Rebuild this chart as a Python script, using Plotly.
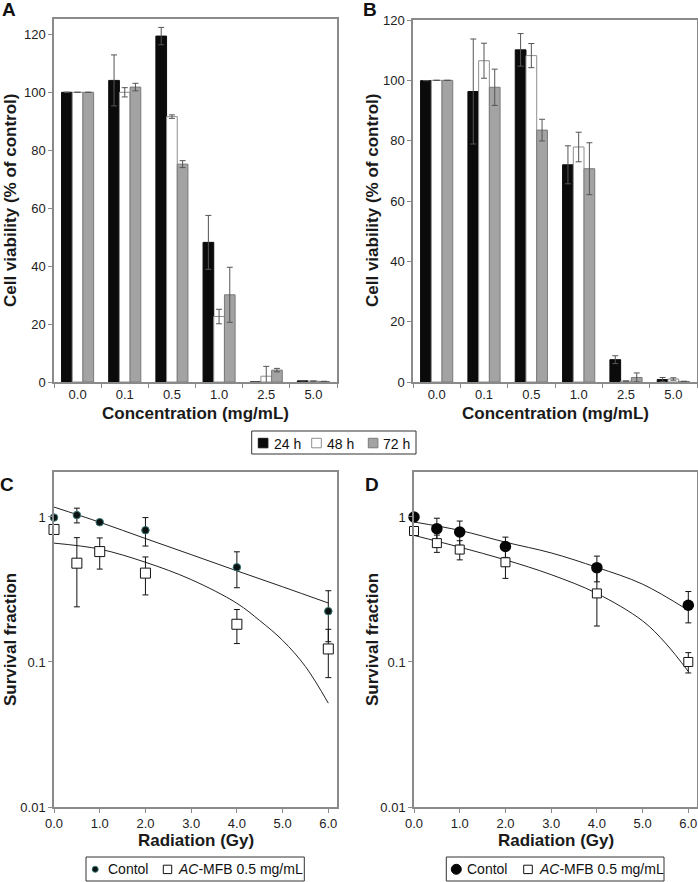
import plotly.graph_objects as go

W, H = 698, 882

# ---------------- data ----------------
conc = ["0.0", "0.1", "0.5", "1.0", "2.5", "5.0"]
series_names = ["24 h", "48 h", "72 h"]

A_24 = [100, 104.1, 119.4, 48.2, 0, 0.4]
A_24_err = [0, 8.8, 3.0, 9.3, 0, 0]
A_48 = [100, 100, 91.6, 22.6, 2.0, 0.3]
A_48_err = [0, 1.6, 0.6, 2.5, 3.4, 0]
A_72 = [100, 101.8, 75.2, 30.1, 4.1, 0.2]
A_72_err = [0, 1.3, 1.2, 9.5, 0.6, 0]

B_24 = [99.9, 96.3, 110.1, 72.0, 7.4, 0.8]
B_24_err = [0, 17.4, 5.4, 6.3, 1.3, 0.7]
B_48 = [100, 106.5, 108.2, 77.9, 0.3, 1.0]
B_48_err = [0, 5.8, 4.0, 4.9, 0, 0.4]
B_72 = [100, 97.7, 83.5, 70.7, 1.5, 0.2]
B_72_err = [0, 6.0, 3.6, 8.6, 1.5, 0]

dose = [0, 0.5, 1, 2, 4, 6]
C_ctrl = [0.99, 1.03, 0.92, 0.81, 0.45, 0.224]
C_ctrl_err = [0, 0.12, 0.02, 0.18, 0.125, 0.086]
C_mfb = [0.82, 0.48, 0.577, 0.41, 0.182, 0.123]
C_mfb_err = [0, 0.24, 0.14, 0.12, 0.048, 0.045]

D_ctrl = [1.0, 0.83, 0.787, 0.626, 0.447, 0.246]
D_ctrl_err = [0, 0.15, 0.15, 0.1, 0.09, 0.06]
D_mfb = [0.80, 0.66, 0.596, 0.487, 0.297, 0.10]
D_mfb_err = [0.05, 0.09, 0.09, 0.11, 0.12, 0.016]

# fitted survival curves
C_fit_dose_ctrl = [0, 1, 2, 3, 4, 5, 6]
C_fit_ctrl = [1.17, 0.92, 0.71, 0.55, 0.425, 0.33, 0.255]
C_fit_dose_mfb = [0, 1, 2, 3, 4, 4.5, 5, 5.5, 6]
C_fit_mfb = [0.66, 0.60, 0.487, 0.37, 0.254, 0.193, 0.141, 0.093, 0.052]
D_fit_dose_ctrl = [0, 1, 2, 3, 4, 5, 6]
D_fit_ctrl = [0.923, 0.808, 0.67, 0.565, 0.449, 0.344, 0.227]
D_fit_dose_mfb = [0, 1, 2, 3, 4, 5, 5.5, 6]
D_fit_mfb = [0.746, 0.619, 0.506, 0.40, 0.297, 0.192, 0.135, 0.086]

x_ticks_rad = [0, 1, 2, 3, 4, 5, 6]
x_ticktext_rad = ["0.0", "1.0", "2.0", "3.0", "4.0", "5.0", "6.0"]
legend_ctrl = "Contol"
legend_mfb = "<i>AC</i>-MFB 0.5 mg/mL"

FONT = "Liberation Sans, Arial, sans-serif"
AX_COL = "#8a8a8a"

BAR_FILL = ["#0b0b0b", "#ffffff", "#a3a3a3"]
BAR_LINE = ["#0b0b0b", "#8f8f8f", "#7a7a7a"]


def px_x(p):
    return p / W


def px_y(p):
    return 1 - p / H


fig = go.Figure()

err_style = dict(type="data", color="#555555", thickness=1, width=3, visible=True)

for i, (vals, errs) in enumerate([(A_24, A_24_err), (A_48, A_48_err), (A_72, A_72_err)]):
    fig.add_trace(go.Bar(x=conc, y=vals, name=series_names[i],
                         marker=dict(color=BAR_FILL[i], line=dict(color=BAR_LINE[i], width=1)),
                         xaxis="x", yaxis="y", error_y=dict(array=errs, **err_style)))
for i, (vals, errs) in enumerate([(B_24, B_24_err), (B_48, B_48_err), (B_72, B_72_err)]):
    fig.add_trace(go.Bar(x=conc, y=vals, name=series_names[i],
                         marker=dict(color=BAR_FILL[i], line=dict(color=BAR_LINE[i], width=1)),
                         xaxis="x2", yaxis="y2", error_y=dict(array=errs, **err_style)))

ebar = dict(type="data", color="#111111", thickness=1, width=3, visible=True)
fit_line = dict(color="#222", width=1, shape="spline")

# Panel C
fig.add_trace(go.Scatter(x=C_fit_dose_ctrl, y=C_fit_ctrl, mode="lines", line=fit_line,
                         xaxis="x3", yaxis="y3", hoverinfo="skip"))
fig.add_trace(go.Scatter(x=C_fit_dose_mfb, y=C_fit_mfb, mode="lines", line=fit_line,
                         xaxis="x3", yaxis="y3", hoverinfo="skip"))
fig.add_trace(go.Scatter(x=dose, y=C_ctrl, mode="markers", name=legend_ctrl, cliponaxis=False,
                         marker=dict(symbol="circle", size=7.5, color="#0a1212", line=dict(color="#3a7676", width=1)),
                         error_y=dict(array=C_ctrl_err, **ebar), xaxis="x3", yaxis="y3"))
fig.add_trace(go.Scatter(x=dose, y=C_mfb, mode="markers", name=legend_mfb, cliponaxis=False,
                         marker=dict(symbol="square", size=10, color="white", line=dict(color="#111", width=1)),
                         error_y=dict(array=C_mfb_err, **ebar), xaxis="x3", yaxis="y3"))

# Panel D
fig.add_trace(go.Scatter(x=D_fit_dose_ctrl, y=D_fit_ctrl, mode="lines", line=fit_line,
                         xaxis="x4", yaxis="y4", hoverinfo="skip"))
fig.add_trace(go.Scatter(x=D_fit_dose_mfb, y=D_fit_mfb, mode="lines", line=fit_line,
                         xaxis="x4", yaxis="y4", hoverinfo="skip"))
fig.add_trace(go.Scatter(x=dose, y=D_ctrl, mode="markers", name=legend_ctrl, cliponaxis=False,
                         marker=dict(symbol="circle", size=11.5, color="#050505", line=dict(width=0)),
                         error_y=dict(array=D_ctrl_err, **ebar), xaxis="x4", yaxis="y4"))
fig.add_trace(go.Scatter(x=dose, y=D_mfb, mode="markers", name=legend_mfb, cliponaxis=False,
                         marker=dict(symbol="square", size=9, color="white", line=dict(color="#111", width=1)),
                         error_y=dict(array=D_mfb_err, **ebar), xaxis="x4", yaxis="y4"))

tickfont = dict(family=FONT, size=13, color="#222")
common_ax = dict(showline=True, linecolor=AX_COL, linewidth=1.5, mirror=True, showgrid=False, zeroline=False,
                 ticks="outside", ticklen=4, tickcolor=AX_COL, tickfont=tickfont, automargin=False)

layout_axes = dict(
    xaxis=dict(domain=[px_x(54), px_x(337)], type="category", tickson="boundaries", anchor="y", **common_ax),
    yaxis=dict(domain=[px_y(382), px_y(19)], range=[0, 125.3], tickvals=[0, 20, 40, 60, 80, 100, 120],
               anchor="x", **common_ax),
    xaxis2=dict(domain=[px_x(413), px_x(697)], type="category", tickson="boundaries", anchor="y2", **common_ax),
    yaxis2=dict(domain=[px_y(382), px_y(20)], range=[0, 120], tickvals=[0, 20, 40, 60, 80, 100, 120],
                anchor="x2", **common_ax),
    xaxis3=dict(domain=[px_x(54), px_x(337)], range=[0, 6.19], tickvals=x_ticks_rad, ticktext=x_ticktext_rad,
                anchor="y3", **common_ax),
    yaxis3=dict(domain=[px_y(807), px_y(472)], type="log", range=[-2, 0.31], tickvals=[0.01, 0.1, 1],
                ticktext=["0.01", "0.1", "1"], anchor="x3", **common_ax),
    xaxis4=dict(domain=[px_x(414), px_x(697)], range=[0, 6.19], tickvals=x_ticks_rad, ticktext=x_ticktext_rad,
                anchor="y4", **common_ax),
    yaxis4=dict(domain=[px_y(807), px_y(472)], type="log", range=[-2, 0.31], tickvals=[0.01, 0.1, 1],
                ticktext=["0.01", "0.1", "1"], anchor="x4", **common_ax),
)

title_font = dict(family=FONT, size=17, color="#1a1a1a")
letter_font = dict(family=FONT, size=19, color="#111")
legend_font = dict(family=FONT, size=14, color="#111")


def ann(text, x, y, font, angle=0, xanchor="center"):
    return dict(text=text, x=px_x(x), y=px_y(y), xref="paper", yref="paper", showarrow=False,
                xanchor=xanchor, yanchor="middle", textangle=angle, font=font)


annotations = [
    ann("<b>A</b>", 8.5, 9, letter_font),
    ann("<b>B</b>", 369.5, 9, letter_font),
    ann("<b>C</b>", 7.5, 484, letter_font),
    ann("<b>D</b>", 371.5, 484, letter_font),
    ann("<b>Cell viability (% of control)</b>", 10, 201, title_font, -90),
    ann("<b>Cell viability (% of control)</b>", 372, 201, title_font, -90),
    ann("<b>Concentration (mg/mL)</b>", 195.5, 413, title_font),
    ann("<b>Concentration (mg/mL)</b>", 555.5, 413, title_font),
    ann("<b>Survival fraction</b>", 10, 640, title_font, -90),
    ann("<b>Survival fraction</b>", 372, 640, title_font, -90),
    ann("<b>Radiation (Gy)</b>", 195.5, 840, title_font),
    ann("<b>Radiation (Gy)</b>", 555.5, 840, title_font),
]

shapes = []


def rect(x0, y0, x1, y1, fill, line, lw=1, kind="rect"):
    return dict(type=kind, xref="paper", yref="paper", x0=px_x(x0), x1=px_x(x1), y0=px_y(y1), y1=px_y(y0),
                fillcolor=fill, line=dict(color=line, width=lw), layer="above")


# legend for A/B
shapes.append(rect(251.7, 431, 416, 454, "white", "#333"))
leg_sw_x = [258.3, 311.7, 368.3]
leg_tx_x = [271.5, 324.5, 381]
for i in range(3):
    shapes.append(rect(leg_sw_x[i], 438.3, leg_sw_x[i] + 9.6, 447.8, BAR_FILL[i], BAR_LINE[i] if i else "#111"))
    annotations.append(ann(series_names[i], leg_tx_x[i], 443.5, legend_font, xanchor="left"))

# legend for C
shapes.append(rect(86, 857, 304.3, 881, "white", "#333"))
shapes.append(rect(92.2, 866.3, 98.2, 872.3, "#0a1212", "#3a7676", 1, "circle"))
annotations.append(ann(legend_ctrl, 105.5, 869.3, legend_font, xanchor="left"))
shapes.append(rect(163.3, 865.2, 171.7, 873.6, "white", "#111"))
annotations.append(ann(legend_mfb, 176, 869.3, legend_font, xanchor="left"))

# legend for D
shapes.append(rect(446.3, 857, 664, 881, "white", "#333"))
shapes.append(rect(451.3, 864.3, 461.3, 874.3, "#050505", "#050505", 1, "circle"))
annotations.append(ann(legend_ctrl, 464.8, 869.3, legend_font, xanchor="left"))
shapes.append(rect(523.7, 865.2, 532.3, 873.6, "white", "#111"))
annotations.append(ann(legend_mfb, 536.8, 869.3, legend_font, xanchor="left"))

fig.update_layout(
    width=W, height=H, margin=dict(l=0, r=0, t=0, b=0, autoexpand=False),
    paper_bgcolor="white", plot_bgcolor="white",
    barmode="group", bargap=0.32, bargroupgap=0.0,
    showlegend=False,
    annotations=annotations,
    shapes=shapes,
    font=dict(family=FONT),
    **layout_axes,
)

fig.write_html(
    "out.html",
    config={"displayModeBar": False},
    post_script="document.body.style.margin='0';document.body.style.padding='0';"
                "document.body.style.overflow='hidden';",
)
